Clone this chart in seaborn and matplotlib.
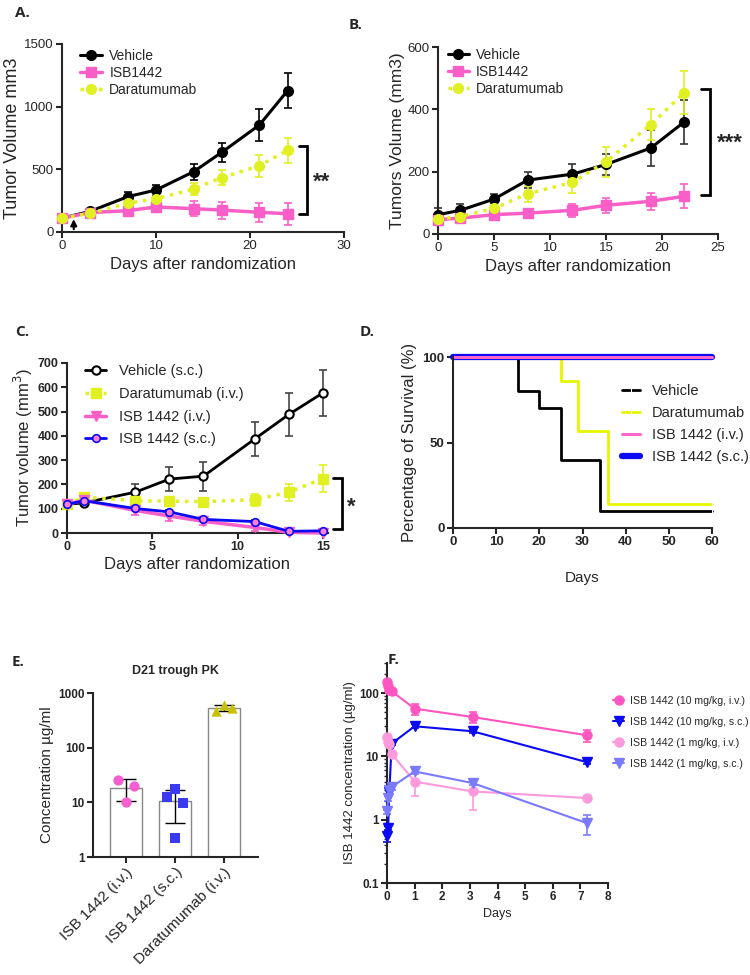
import numpy as np
import pandas as pd
import matplotlib
matplotlib.use('Agg')
import matplotlib.pyplot as plt
import seaborn as sns
from matplotlib.ticker import LogLocator, NullLocator, FixedLocator, NullFormatter

# ---------------- data ----------------
# Panel A
a_days = [0, 3, 7, 10, 14, 17, 21, 24]
a_vehicle = [110, 165, 282, 335, 481, 636, 854, 1128]
a_vehicle_err = [20, 20, 38, 40, 65, 78, 128, 140]
a_isb = [110, 155, 170, 200, 186, 175, 157, 146]
a_isb_err = [15, 15, 30, 40, 58, 68, 78, 88]
a_dara = [110, 149, 230, 265, 343, 434, 529, 652]
a_dara_err = [10, 15, 25, 35, 50, 60, 88, 100]
a_bracket = [141, 689]

# Panel B
b_days = [0, 2, 5, 8, 12, 15, 19, 22]
b_vehicle = [62, 76, 112, 173, 192, 223, 276, 360]
b_vehicle_err = [20, 20, 15, 27, 32, 35, 57, 70]
b_isb = [46, 51, 62, 67, 76, 92, 105, 121]
b_isb_err = [8, 8, 8, 8, 20, 24, 28, 38]
b_dara = [48, 56, 82, 129, 166, 232, 351, 454]
b_dara_err = [8, 10, 12, 25, 35, 48, 50, 68]
b_bracket = [126, 464]

# Panel C
c_days = [0, 1, 4, 6, 8, 11, 13, 15]
c_vehicle = [118, 124, 168, 222, 234, 387, 488, 577]
c_vehicle_err = [8, 8, 35, 48, 60, 68, 90, 95]
c_dara = [118, 148, 133, 131, 129, 137, 168, 224]
c_dara_err = [8, 10, 22, 10, 10, 25, 35, 55]
c_isb_iv = [118, 135, 93, 70, 48, 23, 3, 0]
c_isb_iv_err = [8, 10, 20, 22, 16, 14, 3, 2]
c_isb_sc = [118, 133, 101, 87, 56, 47, 7, 9]
c_isb_sc_err = [5, 5, 8, 8, 6, 6, 3, 3]
c_bracket = [16, 226]

# Panel D (Kaplan-Meier steps)
d_vehicle_t = [0, 15, 20, 25, 34, 60]
d_vehicle_s = [100, 80, 70, 40, 10, 10]
d_dara_t = [0, 25, 29, 36, 60]
d_dara_s = [100, 86, 57, 14.3, 14.3]
d_isb_t = [0, 60]
d_isb_s = [100, 100]

# Panel E
e_groups = ['ISB 1442 (i.v.)', 'ISB 1442 (s.c.)', 'Daratumumab (i.v.)']
e_iv = [26, 19.5, 10]
e_sc = [17.5, 12.7, 9.9, 2.2]
e_dara = [462, 595, 525]

# Panel F
f_t = [0.007, 0.042, 0.083, 0.17, 1, 3.1, 7.25]
f_iv10 = [150, 132, 113, 107, 57, 42, 21.6]
f_iv10_err = [10, 10, 10, 10, 11, 8, 4.8]
f_sc10 = [0.55, 0.75, 2.7, 16, 30, 25, 8.1]
f_sc10_err = [0.1, 0.05, 0.2, 1, 2, 1.5, 0.5]
f_iv1 = [20, 17, 16, 11, 4, 2.8, 2.2]
f_iv1_err = [1, 1, 1, 1, 1.6, 1.4, 0.15]
f_sc1 = [1.35, 2.2, 3.0, 3.3, 5.8, 3.8, 0.88]
f_sc1_err = [0.1, 0.2, 0.2, 0.3, 0.5, 0.3, 0.3]

# ---------------- style ----------------
sns.set_theme(style='ticks')
plt.rcParams['font.family'] = ['Liberation Sans', 'DejaVu Sans']
plt.rcParams['axes.linewidth'] = 1.5

PINK = '#FA5FC8'
YELLOW = '#E0F020'
BLUE = '#0A0AF5'
LPINK = '#FC9ADC'
LBLUE = '#7A7AFF'
OLIVE = '#C8C000'

W, H = 750, 975
fig = plt.figure(figsize=(7.5, 9.75), dpi=100)


def add_ax(left, top, right, bottom):
    return fig.add_axes([left / W, 1 - bottom / H, (right - left) / W, (bottom - top) / H])


def style_ax(ax, size=8, bold=False, lw=1.5):
    sns.despine(ax=ax)
    for s in ['left', 'bottom']:
        ax.spines[s].set_linewidth(lw)
    ax.tick_params(width=lw, length=4, labelsize=size, pad=2)
    if bold:
        for lab in ax.get_xticklabels() + ax.get_yticklabels():
            lab.set_fontweight('bold')


def series(ax, x, y, err, color, marker, label, ls='-', lw=2, ms=7,
           mfc=None, mec=None, ecolor=None, capsize=3, mew=1):
    ax.errorbar(x, y, yerr=err, fmt='none', ecolor=ecolor or color,
                elinewidth=1.2, capsize=capsize, capthick=1.2,
                clip_on=False, zorder=2)
    sns.lineplot(x=x, y=y, ax=ax, color=color, marker=marker, linestyle=ls,
                 linewidth=lw, markersize=ms, markerfacecolor=mfc or color,
                 markeredgecolor=mec or color, markeredgewidth=mew,
                 label=label, clip_on=False, zorder=3, estimator=None)


def bracket(ax, x0, x1, ys, lw=2):
    ax.plot([x0, x1, x1, x0], [ys[0], ys[0], ys[1], ys[1]], color='black',
            lw=lw, clip_on=False, solid_joinstyle='miter')


# ---------------- Panel A ----------------
ax = add_ax(62, 44, 344, 232)
series(ax, a_days, a_vehicle, a_vehicle_err, 'black', 'o', 'Vehicle', lw=2.2, ms=7)
series(ax, a_days, a_isb, a_isb_err, PINK, 's', 'ISB1442', lw=2.5, ms=7)
series(ax, a_days, a_dara, a_dara_err, YELLOW, 'o', 'Daratumumab', ls=':', lw=2.5, ms=7)
ax.annotate('', xy=(1.25, 125), xytext=(1.25, 0),
            arrowprops=dict(arrowstyle='-|>', color='black', lw=1.5, mutation_scale=9))
bracket(ax, 25.2, 26.1, a_bracket)
ax.text(27.6, 400, '**', fontsize=16, fontweight='bold', ha='center', va='center')
ax.set_xlim(0, 30)
ax.set_ylim(0, 1500)
ax.set_xticks([0, 10, 20, 30])
ax.set_yticks([0, 500, 1000, 1500])
ax.set_xlabel('Days after randomization', fontsize=12, labelpad=3)
ax.set_ylabel('Tumor Volume mm3', fontsize=13, labelpad=2)
ax.legend(loc='upper left', bbox_to_anchor=(0.02, 1.04), frameon=False, fontsize=10,
          handlelength=1.6, labelspacing=0.2, handletextpad=0.5)
style_ax(ax, size=9.5)

# ---------------- Panel B ----------------
ax = add_ax(438, 47, 718, 234)
series(ax, b_days, b_vehicle, b_vehicle_err, 'black', 'o', 'Vehicle', lw=2.2, ms=7,
       ecolor='#333333')
series(ax, b_days, b_isb, b_isb_err, PINK, 's', 'ISB1442', lw=2.5, ms=7)
series(ax, b_days, b_dara, b_dara_err, YELLOW, 'o', 'Daratumumab', ls=':', lw=2.5, ms=7)
bracket(ax, 23.5, 24.3, b_bracket)
ax.text(26.1, 290, '***', fontsize=16, fontweight='bold', ha='center', va='center')
ax.set_xlim(0, 25)
ax.set_ylim(0, 600)
ax.set_xticks([0, 5, 10, 15, 20, 25])
ax.set_yticks([0, 200, 400, 600])
ax.set_xlabel('Days after randomization', fontsize=12, labelpad=3)
ax.set_ylabel('Tumors Volume (mm3)', fontsize=12.5, labelpad=2)
ax.legend(loc='upper left', bbox_to_anchor=(-0.01, 1.06), frameon=False, fontsize=10,
          handlelength=1.5, labelspacing=0.2, handletextpad=0.5)
style_ax(ax, size=9.5)

# ---------------- Panel C ----------------
ax = add_ax(67, 363, 328, 533)
series(ax, c_days, c_vehicle, c_vehicle_err, 'black', 'o', 'Vehicle (s.c.)', lw=2, ms=6,
       mfc='white', mec='black', mew=1.5, ecolor='#444444')
series(ax, c_days, c_dara, c_dara_err, YELLOW, 's', 'Daratumumab (i.v.)', ls=':', lw=2.5, ms=7)
series(ax, c_days, c_isb_iv, c_isb_iv_err, PINK, 'v', 'ISB 1442 (i.v.)', lw=2.5, ms=7)
series(ax, c_days, c_isb_sc, c_isb_sc_err, BLUE, 'o', 'ISB 1442 (s.c.)', lw=2, ms=5.5,
       mfc='#FF80D0', mec=BLUE, mew=1.2)
bracket(ax, 15.6, 16.1, c_bracket)
ax.text(16.65, 105, '*', fontsize=16, fontweight='bold', ha='center', va='center')
ax.set_xlim(0, 15.3)
ax.set_ylim(0, 700)
ax.set_xticks([0, 5, 10, 15])
ax.set_yticks(range(0, 701, 100))
ax.set_xlabel('Days after randomization', fontsize=12, labelpad=3)
ax.set_ylabel('Tumor volume (mm$^3$)', fontsize=12, labelpad=2)
ax.legend(loc='upper left', bbox_to_anchor=(0.02, 1.07), frameon=False, fontsize=10.5,
          handlelength=1.4, labelspacing=0.6, handletextpad=0.9)
style_ax(ax, size=9, bold=True)

# ---------------- Panel D ----------------
ax = add_ax(453, 357, 712, 528)
sns.lineplot(x=d_vehicle_t, y=d_vehicle_s, ax=ax, color='black', lw=2, drawstyle='steps-post',
             label='Vehicle', estimator=None, clip_on=False, marker='|', markevery=[-1],
             markersize=5)
sns.lineplot(x=d_dara_t, y=d_dara_s, ax=ax, color='#E6F500', lw=2, drawstyle='steps-post',
             label='Daratumumab', estimator=None, clip_on=False, marker='|', markevery=[-1],
             markersize=5)
sns.lineplot(x=d_isb_t, y=d_isb_s, ax=ax, color=BLUE, lw=4.5, drawstyle='steps-post',
             label='ISB 1442 (s.c.)', estimator=None, clip_on=False)
sns.lineplot(x=d_isb_t, y=d_isb_s, ax=ax, color='#FF66CC', lw=2.2, drawstyle='steps-post',
             label='ISB 1442 (i.v.)', estimator=None, clip_on=False)
ax.set_xlim(0, 60)
ax.set_ylim(0, 100)
ax.set_xticks(range(0, 61, 10))
ax.set_yticks([0, 50, 100])
ax.set_xlabel('Days', fontsize=11, labelpad=16)
ax.set_ylabel('Percentage of Survival (%)', fontsize=12, labelpad=4)
handles, labels = ax.get_legend_handles_labels()
order = [0, 1, 3, 2]
ax.legend([handles[i] for i in order], [labels[i] for i in order],
          loc='upper left', bbox_to_anchor=(0.6, 0.92), frameon=False, fontsize=10.5,
          handlelength=1.3, labelspacing=0.55, handletextpad=0.8)
style_ax(ax, size=9.5, bold=True)

# ---------------- Panel E ----------------
ax = add_ax(93, 693, 258, 857)
e_values = [e_iv, e_sc, e_dara]
e_means = [np.mean(v) for v in e_values]
e_sds = [np.std(v, ddof=1) for v in e_values]
sns.barplot(x=e_groups, y=e_means, ax=ax, color='white', edgecolor='#888888',
            linewidth=1, width=0.66, zorder=1)
ax.set_yscale('log')
ax.errorbar(range(3), e_means, yerr=e_sds, fmt='none', ecolor='black', elinewidth=1,
            capsize=7, capthick=1, zorder=3)
e_offsets = [[-0.16, 0.17, 0.0], [0.0, -0.17, 0.16, 0.0], [-0.17, 0.0, 0.17]]
e_colors = ['#F55FD0', '#3A3AF0', OLIVE]
e_markers = ['o', 's', '^']
for i, (vals, offs) in enumerate(zip(e_values, e_offsets)):
    sns.scatterplot(x=[i + o for o in offs], y=vals, ax=ax, color=e_colors[i],
                    marker=e_markers[i], s=55, edgecolor=e_colors[i], linewidth=0,
                    zorder=4, clip_on=False)
ax.set_xlim(-0.67, 2.69)
ax.set_ylim(1, 1000)
ax.yaxis.set_major_locator(FixedLocator([1, 10, 100, 1000]))
ax.yaxis.set_minor_locator(NullLocator())
ax.set_yticklabels(['1', '10', '100', '1000'])
ax.set_xticks(range(3))
ax.set_xticklabels(e_groups, rotation=45, ha='right', rotation_mode='anchor')
ax.set_title('D21 trough PK', fontsize=9, fontweight='bold', pad=14)
ax.set_ylabel('Concentration µg/ml', fontsize=11, labelpad=3)
style_ax(ax, size=8.5)
for lab in ax.get_yticklabels():
    lab.set_fontweight('bold')
ax.tick_params(axis='x', labelsize=11)

# ---------------- Panel F ----------------
ax = add_ax(387, 663, 608, 883)
series(ax, f_t, f_iv10, f_iv10_err, '#FF55C0', 'o', 'ISB 1442 (10 mg/kg, i.v.)', lw=1.5, ms=6.5)
series(ax, f_t, f_sc10, f_sc10_err, BLUE, 'v', 'ISB 1442 (10 mg/kg, s.c.)', lw=1.5, ms=6.5)
series(ax, f_t, f_iv1, f_iv1_err, LPINK, 'o', 'ISB 1442 (1 mg/kg, i.v.)', lw=1.5, ms=6.5)
series(ax, f_t, f_sc1, f_sc1_err, LBLUE, 'v', 'ISB 1442 (1 mg/kg, s.c.)', lw=1.5, ms=6.5)
ax.set_yscale('log')
ax.set_xlim(0, 8)
ax.set_ylim(0.1, 300)
ax.set_xticks(range(0, 9))
ax.yaxis.set_major_locator(FixedLocator([0.1, 1, 10, 100]))
ax.yaxis.set_minor_locator(LogLocator(base=10, subs=np.arange(2, 10)))
ax.yaxis.set_minor_formatter(NullFormatter())
ax.set_yticklabels(['0.1', '1', '10', '100'])
ax.set_xlabel('Days', fontsize=9, labelpad=3)
ax.set_ylabel('ISB 1442 concentration (µg/ml)', fontsize=9.5, labelpad=2)
ax.legend(loc='upper left', bbox_to_anchor=(0.995, 0.88), frameon=False, fontsize=7.6,
          handlelength=1.0, labelspacing=1.05, handletextpad=0.6, borderaxespad=0.2)
style_ax(ax, size=8.5, bold=True)
ax.tick_params(axis='y', which='minor', width=1, length=2.5)

# ---------------- panel letters ----------------
for letter, (px, py) in {'A.': (15, 13), 'B.': (349, 25), 'C.': (15, 332),
                         'D.': (360, 332), 'E.': (12, 662), 'F.': (388, 660)}.items():
    fig.text(px / W, 1 - py / H, letter, fontsize=11, fontweight='bold',
             va='center', ha='left', family=['Open Sans', 'DejaVu Sans'])

fig.savefig('out.png', dpi=100, facecolor='white')
